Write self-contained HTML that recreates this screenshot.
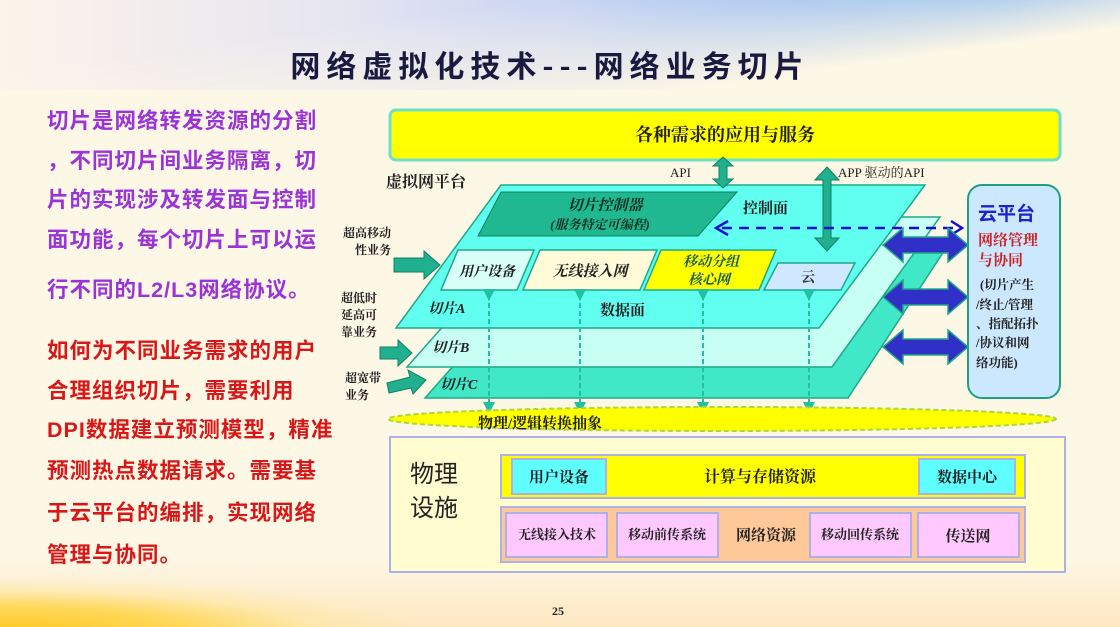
<!DOCTYPE html>
<html><head><meta charset="utf-8"><style>
html,body{margin:0;padding:0}
body{width:1120px;height:627px;overflow:hidden;position:relative;background:#fdf7e6;font-family:"Liberation Serif","Noto Serif CJK SC",serif}
.bgtop{position:absolute;left:0;top:0;width:1120px;height:90px;background:linear-gradient(90deg,#fdf3ea 0%,#e6e6f0 30%,#c9d4f4 50%,#8fb8f6 70%,#4f9af8 90%,#5aa0f8 100%);-webkit-mask-image:linear-gradient(172deg,#000 0%,#000 30%,rgba(0,0,0,0) 75%);mask-image:linear-gradient(172deg,#000 0%,#000 30%,rgba(0,0,0,0) 75%)}
.bgbot{position:absolute;left:0;bottom:0;width:1120px;height:70px;background:radial-gradient(ellipse 420px 55px at 0px 75px,#ffc820 0%,#ffd85a 45%,rgba(255,230,150,0.5) 75%,rgba(253,247,230,0) 100%),linear-gradient(180deg,rgba(253,247,230,0),#fde8c0)}
.lt{position:absolute;left:47px;font-family:"Liberation Sans","Noto Sans CJK SC",sans-serif;font-size:21.5px;line-height:22px;white-space:nowrap;font-weight:bold;letter-spacing:1px}
.p{color:#9a34d8}.r{color:#d81818}
</style></head><body>
<div class="bgtop"></div><div class="bgbot"></div>
<div style="position:absolute;left:0;top:42px;width:1100px;text-align:center;font-family:'Noto Sans CJK SC',sans-serif;font-size:30px;font-weight:bold;color:#1a1a40;letter-spacing:6px">网络虚拟化技术---网络业务切片</div>

<div class="lt p" style="top:110px">切片是网络转发资源的分割</div>
<div class="lt p" style="top:150px">，不同切片间业务隔离，切</div>
<div class="lt p" style="top:189px">片的实现涉及转发面与控制</div>
<div class="lt p" style="top:229px">面功能，每个切片上可以运</div>
<div class="lt p" style="top:279px">行不同的L2/L3网络协议。</div>
<div class="lt r" style="top:340px">如何为不同业务需求的用户</div>
<div class="lt r" style="top:380px">合理组织切片，需要利用</div>
<div class="lt r" style="top:419px">DPI数据建立预测模型，精准</div>
<div class="lt r" style="top:460px">预测热点数据请求。需要基</div>
<div class="lt r" style="top:502px">于云平台的编排，实现网络</div>
<div class="lt r" style="top:544px">管理与协同。</div>

<svg style="position:absolute;left:0;top:0" width="1120" height="627" font-family="Liberation Serif,Noto Serif CJK SC,serif" font-weight="bold">
<defs>
<marker id="ga" markerWidth="6" markerHeight="6" refX="3" refY="3" orient="auto"><path d="M0,0L6,3L0,6z" fill="#20c0a0"/></marker>
</defs>
<rect x="390" y="110" width="670" height="50" rx="6" fill="#ffff00" stroke="#6ee0c8" stroke-width="3"/>
<text x="725" y="141" text-anchor="middle" font-size="18" fill="#222">各种需求的应用与服务</text>
<text x="386" y="187" font-size="16" fill="#222">虚拟网平台</text>
<text x="670" y="177" font-size="13" fill="#222" font-weight="normal">API</text>
<text x="838" y="177" font-size="13" fill="#222" font-weight="normal">APP 驱动的API</text>
<polygon points="560,245 948,245 848,398 425,398" fill="#40e8c8" stroke="#20a888" stroke-width="1.5"/>
<polygon points="540,217 940,217 832,367 407,367" fill="#c8fff4" stroke="#20a888" stroke-width="1.5"/>
<polygon points="501,185 925,185 819,328 396,328" fill="#60fff0" stroke="#20a888" stroke-width="1.5"/>
<polygon points="501,192 737,192 698,236 478,236" fill="#20b890" stroke="#108060"/>
<text x="605" y="210" text-anchor="middle" font-size="15" font-style="italic" fill="#103020">切片控制器</text>
<text x="600" y="229" text-anchor="middle" font-size="13" font-style="italic" fill="#103020">(服务特定可编程)</text>
<text x="743" y="213" font-size="15" fill="#222">控制面</text>
<polygon points="458,250 534,250 517,290 441,290" fill="#d8fff8" stroke="#20a888" stroke-width="1.5"/>
<text x="487" y="276" text-anchor="middle" font-size="14" font-style="italic" fill="#222">用户设备</text>
<polygon points="540,250 657,250 640,290 523,290" fill="#fffbd8" stroke="#20a888" stroke-width="1.5"/>
<text x="590" y="276" text-anchor="middle" font-size="15" font-style="italic" fill="#222">无线接入网</text>
<polygon points="661,250 776,250 759,290 644,290" fill="#ffff00" stroke="#20a888" stroke-width="1.5"/>
<text x="711" y="266" text-anchor="middle" font-size="14" font-style="italic" fill="#1a6050">移动分组</text>
<text x="709" y="284" text-anchor="middle" font-size="14" font-style="italic" fill="#1a6050">核心网</text>
<polygon points="778,263 855,263 841,290 764,290" fill="#d0e8ff" stroke="#20a888" stroke-width="1.5"/>
<text x="808" y="282" text-anchor="middle" font-size="14" fill="#333">云</text>
<text x="428" y="313" font-size="14" font-style="italic" fill="#222">切片A</text>
<text x="600" y="315" font-size="15" fill="#222">数据面</text>
<text x="432" y="352" font-size="14" font-style="italic" fill="#222">切片B</text>
<text x="440" y="389" font-size="14" font-style="italic" fill="#222">切片C</text>
<g stroke="#20c0a0" stroke-width="2" stroke-dasharray="5,3" marker-start="url(#ga)" marker-end="url(#ga)">
<line x1="489" y1="295" x2="489" y2="408"/><line x1="580" y1="295" x2="580" y2="408"/>
<line x1="703" y1="295" x2="703" y2="408"/><line x1="809" y1="295" x2="809" y2="408"/>
</g>
<ellipse cx="722" cy="419" rx="334" ry="12" fill="#ffff00" stroke="#a8d840" stroke-width="2" stroke-dasharray="5,3"/>
<text x="478" y="428" font-size="15" fill="#222">物理/逻辑转换抽象</text>
<g fill="#20b090" stroke="#108060" stroke-width="1">
<polygon points="723,157 733,166 727,166 727,179 733,179 723,188 713,179 719,179 719,166 713,166"/>
<polygon points="827,167 839,180 831,180 831,238 839,238 827,251 815,238 823,238 823,180 815,180"/>
</g>
<line x1="722" y1="228" x2="955" y2="228" stroke="#1010d0" stroke-width="2.5" stroke-dasharray="10,7"/>
<path d="M728,221L716,228L728,235M951,221L962,228L951,235" fill="none" stroke="#1010d0" stroke-width="2.5"/>
<g fill="#3030c8" stroke="#20a888" stroke-width="1.5">
<polygon points="883,245 903,228 903,237 948,237 948,228 968,245 948,262 948,253 903,253 903,262"/>
<polygon points="883,297 903,280 903,289 948,289 948,280 968,297 948,314 948,305 903,305 903,314"/>
<polygon points="883,347 903,330 903,339 948,339 948,330 968,347 948,364 948,355 903,355 903,364"/>
</g>
<rect x="968" y="185" width="92" height="213" rx="14" fill="#cce8ff" stroke="#20a080" stroke-width="2"/>
<text x="978" y="220" font-size="19" fill="#2020d0" font-family="Noto Sans CJK SC,sans-serif">云平台</text>
<text x="978" y="245" font-size="15" fill="#d02020">网络管理</text>
<text x="978" y="265" font-size="15" fill="#d02020">与协同</text>
<g font-size="12.5" fill="#222"><text x="980" y="289">(切片产生</text><text x="976" y="309">/终止/管理</text><text x="976" y="328">、指配拓扑</text><text x="976" y="347">/协议和网</text><text x="976" y="367">络功能)</text></g>
<g font-size="12" fill="#222"><text x="343" y="237">超高移动</text><text x="355" y="254">性业务</text>
<text x="341" y="302">超低时</text><text x="341" y="319">延高可</text><text x="341" y="336">靠业务</text>
<text x="345" y="382">超宽带</text><text x="345" y="399">业务</text></g>
<g fill="#20b090" stroke="#108060">
<polygon points="394,258 424,258 424,251 440,265 424,279 424,272 394,272"/>
<polygon points="380,347 398,347 398,340 412,353 398,366 398,359 380,359"/>
<polygon points="387,383 410,377 408,370 426,380 413,394 411,388 389,393"/>
</g>
<rect x="390" y="437" width="675" height="135" fill="#fffcd0" stroke="#b0b0e8" stroke-width="2"/>
<text x="410" y="482" font-size="24" font-weight="normal" fill="#222" font-family="Noto Sans CJK SC,sans-serif">物理</text>
<text x="410" y="516" font-size="24" font-weight="normal" fill="#222" font-family="Noto Sans CJK SC,sans-serif">设施</text>
<rect x="501" y="455" width="524" height="43" fill="#ffff00" stroke="#b0b0e8" stroke-width="2"/>
<rect x="512" y="459" width="94" height="35" fill="#60ffff" stroke="#b0b0e8" stroke-width="2"/>
<text x="559" y="482" text-anchor="middle" font-size="15" fill="#222">用户设备</text>
<text x="760" y="482" text-anchor="middle" font-size="16" fill="#222">计算与存储资源</text>
<rect x="919" y="459" width="96" height="35" fill="#60ffff" stroke="#b0b0e8" stroke-width="2"/>
<text x="967" y="482" text-anchor="middle" font-size="15" fill="#222">数据中心</text>
<rect x="501" y="507" width="524" height="55" fill="#ffc898" stroke="#b0b0e8" stroke-width="2"/>
<rect x="506" y="513" width="101" height="44" fill="#ffc8ff" stroke="#b0b0e8" stroke-width="2"/>
<text x="557" y="539" text-anchor="middle" font-size="13" fill="#222">无线接入技术</text>
<rect x="617" y="513" width="101" height="44" fill="#ffc8ff" stroke="#b0b0e8" stroke-width="2"/>
<text x="667" y="539" text-anchor="middle" font-size="13" fill="#222">移动前传系统</text>
<text x="766" y="540" text-anchor="middle" font-size="15" fill="#222">网络资源</text>
<rect x="810" y="513" width="101" height="44" fill="#ffc8ff" stroke="#b0b0e8" stroke-width="2"/>
<text x="860" y="539" text-anchor="middle" font-size="13" fill="#222">移动回传系统</text>
<rect x="918" y="513" width="101" height="44" fill="#ffc8ff" stroke="#b0b0e8" stroke-width="2"/>
<text x="968" y="541" text-anchor="middle" font-size="15" fill="#222">传送网</text>
<text x="558" y="615" text-anchor="middle" font-size="12" fill="#222">25</text>
</svg>
</body></html>
